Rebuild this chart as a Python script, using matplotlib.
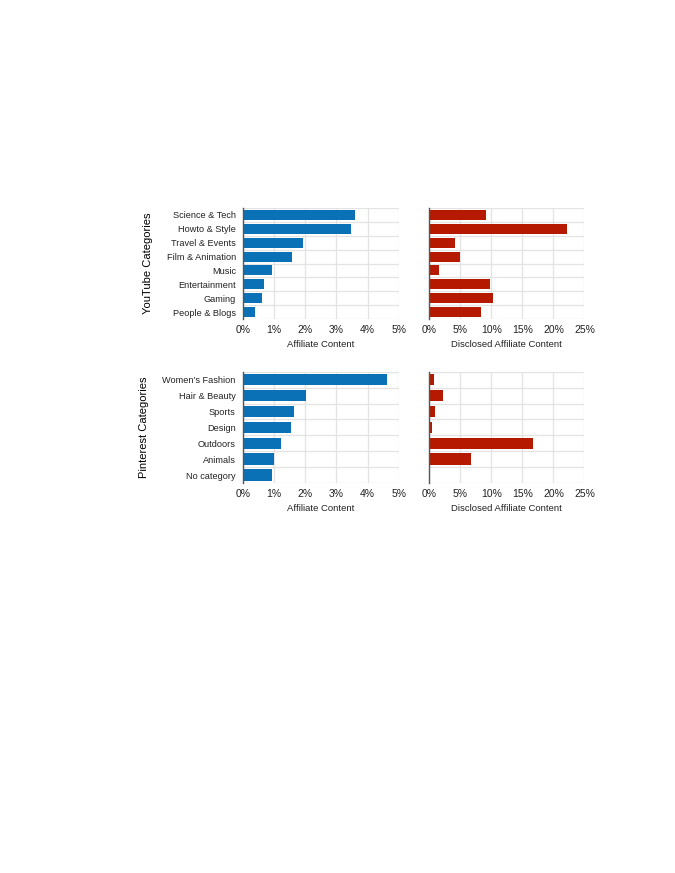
import numpy as np
import matplotlib.pyplot as plt
from matplotlib.ticker import FuncFormatter

plt.rcParams['font.family'] = ['Liberation Sans', 'DejaVu Sans']

# YouTube
yt_cats = ['Science & Tech', 'Howto & Style', 'Travel & Events', 'Film & Animation',
           'Music', 'Entertainment', 'Gaming', 'People & Blogs']
yt_aff = [3.60, 3.47, 1.92, 1.59, 0.95, 0.68, 0.63, 0.38]
yt_disc = [9.1, 22.2, 4.1, 4.9, 1.56, 9.8, 10.25, 8.3]

# Pinterest
pin_cats = ['Women\u2019s Fashion', 'Hair & Beauty', 'Sports', 'Design',
            'Outdoors', 'Animals', 'No category']
pin_aff = [4.62, 2.03, 1.63, 1.54, 1.22, 1.0, 0.93]
pin_disc = [0.75, 2.15, 0.97, 0.38, 16.7, 6.7, 0.16]

blue = '#0b71b6'
red = '#b51a00'
grid_c = '#e3e3e3'

fig = plt.figure(figsize=(6.75, 8.73), dpi=100)


def draw(ax, cats, vals, color, xmax, step, xlabel, show_labels):
    n = len(cats)
    y = np.arange(n)
    ax.barh(y, vals, height=0.72, color=color, zorder=3)
    ax.set_ylim(n - 0.5, -0.5)
    ax.set_xlim(0, xmax)
    ax.set_xticks(np.arange(0, xmax + step / 2, step))
    ax.xaxis.set_major_formatter(FuncFormatter(lambda v, p: f'{v:.0f}%'))
    ax.set_yticks(y)
    ax.set_yticklabels(cats if show_labels else [])
    ax.set_yticks(np.arange(-0.5, n, 1), minor=True)
    ax.grid(True, axis='x', which='major', color=grid_c, linewidth=0.9, zorder=0)
    ax.grid(True, axis='y', which='minor', color=grid_c, linewidth=0.9, zorder=0)
    ax.tick_params(which='both', length=0, colors='#222222')
    ax.tick_params(axis='x', labelsize=7.5, pad=4)
    ax.tick_params(axis='y', labelsize=6.6, pad=5)
    for s in ['top', 'right', 'bottom']:
        ax.spines[s].set_visible(False)
    ax.spines['left'].set_color('#555555')
    ax.spines['left'].set_linewidth(1.0)
    ax.spines['left'].set_zorder(4)
    ax.set_xlabel(xlabel, fontsize=6.8, labelpad=4, color='#222222')


ax1 = fig.add_axes([0.3596, 0.6346, 0.2311, 0.1271])
ax2 = fig.add_axes([0.6360, 0.6346, 0.2299, 0.1271])
ax3 = fig.add_axes([0.3596, 0.4467, 0.2311, 0.1275])
ax4 = fig.add_axes([0.6360, 0.4467, 0.2299, 0.1275])

draw(ax1, yt_cats, yt_aff, blue, 5, 1, 'Affiliate Content', True)
draw(ax2, yt_cats, yt_disc, red, 25, 5, 'Disclosed Affiliate Content', False)
draw(ax3, pin_cats, pin_aff, blue, 5, 1, 'Affiliate Content', True)
draw(ax4, pin_cats, pin_disc, red, 25, 5, 'Disclosed Affiliate Content', False)

ax1.set_ylabel('YouTube Categories', fontsize=8, labelpad=10)
ax3.set_ylabel('Pinterest Categories', fontsize=8, labelpad=10)

fig.savefig('out.png', dpi=100)
